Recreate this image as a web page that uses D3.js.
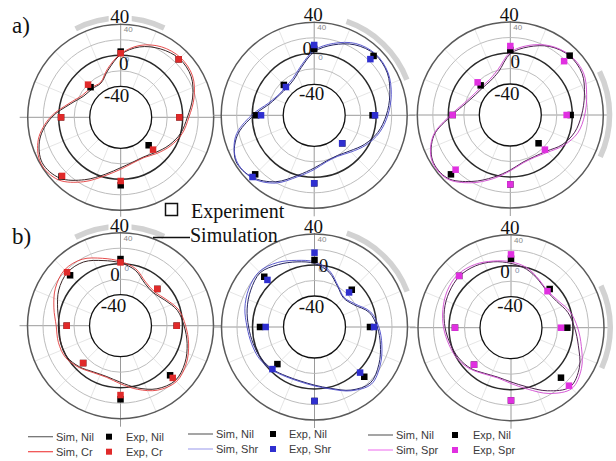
<!DOCTYPE html>
<html><head><meta charset="utf-8">
<script src="https://cdn.jsdelivr.net/npm/d3@7"></script>
<style>body{margin:0;background:#fff}</style>
</head><body>
<svg id="chart" width="616" height="461"></svg>
<script>
// Angles (degrees, clockwise from 12 o'clock)
const simAngles = d3.range(0, 360, 15);
const expAngles = [0, 45, 90, 135, 180, 225, 270, 315];
const ringTicks = [-40, -20, 0, 20, 40];

// Row a) simulated curves
const simNil_a1 = [1, 14, 22, 27, 25, 16, 6, 0, -8, -16, -21, -20, -15, -4, 13, 31, 37, 28, 9, -13, -25, -28, -29, -17];
const simCr_a1  = [2, 16, 25, 29, 27, 18, 8, 2, -6, -14, -20, -19, -13, -2, 16, 34, 39, 30, 11, -11, -23, -26, -28, -15];
const simNil_a2 = [2, 14, 25, 31, 29, 21, 13, 5, -5, -15, -20, -19, -12, 0, 19, 33, 37, 23, -2, -21, -28, -30, -27, -16];
const simShr_a2 = [4, 16, 27, 32, 30, 23, 15, 7, -3, -13, -19, -18, -10, 2, 21, 34, 36, 25, 1, -19, -27, -28, -25, -14];
const simNil_a3 = [-1, 11, 22, 28, 27, 19, 12, 6, -3, -14, -18, -17, -9, 3, 19, 35, 36, 22, -5, -21, -28, -30, -29, -22];
const simSpr_a3 = [1, 13, 23, 29, 29, 22, 16, 10, -1, -12, -17, -16, -8, 5, 21, 36, 37, 23, -3, -19, -26, -28, -27, -19];

// Row b) simulated curves
const simNil_b1 = [1, -6, -17, -20, -14, -4, 2, 9, 16, 20, 14, 3, -7, -12, -11, -5, 0, 0, -1, 4, 12, 17, 15, 7];
const simCr_b1  = [3, -4, -15, -18, -12, -2, 4, 11, 18, 22, 16, 5, -5, -11, -10, -4, 2, 3, 3, 9, 17, 22, 19, 10];
const simNil_b2 = [2, -7, -20, -27, -22, -7, 1, 8, 16, 22, 14, 2, -5, -8, -7, -3, 0, 2, 5, 10, 15, 19, 13, 7];
const simShr_b2 = [4, -5, -19, -26, -20, -5, 3, 10, 18, 24, 15, 3, -4, -7, -6, -2, 2, 4, 7, 13, 18, 21, 16, 9];
const simNil_b3 = [3, -2, -9, -14, -12, -4, 2, 10, 22, 28, 14, -1, -10, -14, -12, -6, -2, 1, 5, 9, 12, 14, 12, 8];
const simSpr_b3 = [5, 0, -8, -13, -10, -1, 6, 14, 25, 31, 18, 2, -8, -13, -11, -5, 0, 3, 7, 11, 15, 17, 14, 9];

// Measured values at the eight directions
const expNil_a1 = [4.8, 25.8, -4.3, -29, 7.7, 28, -3, -25];
const expCr_a1  = [2.6, 25.8, -4.3, -21, 2.2, 27, -3, -20.4];
const expNil_a2 = [5.6, 28.3, -4.7, -28.9, 7.7, 27.7, -5, -24.6];
const expShr_a2 = [10.7, 22.5, -1.5, -28.9, 7.7, 32.6, -11.4, -28.4];
const expNil_a3 = [3.9, 28.3, -2.1, -28.4, 9.5, 28.3, -5.6, -25.9];
const expSpr_a3 = [9, 18.2, -7.3, -16.8, 9.5, 19.8, -5.6, -20.4];
const expNil_b1 = [6, -12.9, -7.5, 10.5, 15, -11.8, -10.6, 12];
const expCr_b1  = [1.7, -12.9, -7.5, 15.3, 9.5, -11.8, -10.6, 17.5];
const expNil_b2 = [6.5, -12, -8.4, 10.8, 15.5, -12.3, -9.7, 11.7];
const expShr_b2 = [15.9, -16.9, -3.2, 3.2, 15.5, -3.2, -17, 5.9];
const expNil_b3 = [9, -9.4, -7.3, 11.2, 13.8, -12.5, -7.7, 14.6];
const expSpr_b3 = [14.6, -13.4, -15.5, 25.8, 13.8, -12.5, -7.7, 14.6];

// Legend labels
const variantNames = ["Cr", "Shr", "Spr"];

const variantColor = { Cr: "#e02a2a", Shr: "#2f2fd0", Spr: "#e030e0" };
const variantLine = { Cr: "#e23a3a", Shr: "#4a4ac8", Spr: "#d048d0" };
const variantLegendLine = { Cr: "#f04848", Shr: "#a8a8ee", Spr: "#f080f0" };
const nilLine = { Cr: "#3a2626", Shr: "#242462", Spr: "#4e2250" };

const panels = [
  { cx: 120.7, cy: 117.3, arc: [-27, 26], zero: [3, -47.5], neg: [-4, -15], v: "Cr",  simNil: simNil_a1, simAlt: simCr_a1,  expNil: expNil_a1, expAlt: expCr_a1 },
  { cx: 314.2, cy: 115.3, arc: [19, 69],  zero: [-7, -60.5], neg: [-2.5, -15.5], v: "Shr", simNil: simNil_a2, simAlt: simShr_a2, expNil: expNil_a2, expAlt: expShr_a2 },
  { cx: 510.3, cy: 115.0, arc: [64, 115], zero: [5, -47.5], neg: [-3.5, -15.5], v: "Spr", simNil: simNil_a3, simAlt: simSpr_a3, expNil: expNil_a3, expAlt: expSpr_a3 },
  { cx: 120.5, cy: 325.7, arc: [-27, 26], zero: [-5.5, -44.5], neg: [-7, -13.5], v: "Cr",  simNil: simNil_b1, simAlt: simCr_b1,  expNil: expNil_b1, expAlt: expCr_b1 },
  { cx: 314.5, cy: 327.0, arc: [19, 69],  zero: [9, -55.5], neg: [-3, -14.5], v: "Shr", simNil: simNil_b2, simAlt: simShr_b2, expNil: expNil_b2, expAlt: expShr_b2 },
  { cx: 511.0, cy: 327.7, arc: [65, 114], zero: [-6, -49.5], neg: [-1, -15.5], v: "Spr", simNil: simNil_b3, simAlt: simSpr_b3, expNil: expNil_b3, expAlt: expSpr_b3 }
];

const svg = d3.select("#chart");
svg.append("rect").attr("width", 616).attr("height", 461).attr("fill", "#fff");

const r = d3.scaleLinear().domain([-40, 40]).range([31, 93]);
const rad = d => d * Math.PI / 180;
const serif = "'Liberation Serif', 'Times New Roman', serif";
const sans = "'Liberation Sans', Arial, sans-serif";

const radial = d3.lineRadial()
  .angle(d => rad(d[0]))
  .radius(d => r(d[1]))
  .curve(d3.curveCatmullRomClosed.alpha(0.5));

panels.forEach(p => {
  const g = svg.append("g").attr("transform", `translate(${p.cx},${p.cy})`);

  // spokes
  d3.range(0, 360, 22.5).forEach(a => {
    const major = a % 90 === 0;
    const r1 = major ? 101 : r(40);
    g.append("line")
      .attr("x1", r(-40) * Math.sin(rad(a))).attr("y1", -r(-40) * Math.cos(rad(a)))
      .attr("x2", r1 * Math.sin(rad(a))).attr("y2", -r1 * Math.cos(rad(a)))
      .attr("stroke", major ? "#9a9a9a" : "#dedede")
      .attr("stroke-width", major ? 1 : 0.8);
  });

  // rings
  ringTicks.forEach(t => {
    const style = t === -40 ? ["#111", 1.3] : t === 0 ? ["#2a2a2a", 1.5] : t === 40 ? ["#5a5a5a", 1.5] : ["#bdbdbd", 1];
    g.append("circle").attr("r", r(t))
      .attr("fill", t === -40 ? "#fff" : "none")
      .attr("stroke", style[0]).attr("stroke-width", style[1]);
  });

  // highlighted sector on the rim
  g.append("path")
    .attr("d", d3.arc().innerRadius(96.5).outerRadius(102).startAngle(rad(p.arc[0])).endAngle(rad(p.arc[1]))())
    .attr("fill", "#d2d2d2");

  // small tick labels
  g.append("text").attr("x", 3).attr("y", -r(40) + 8)
    .attr("font-family", sans).attr("font-size", 8).attr("fill", "#888").text("40");
  g.append("text").attr("x", 4).attr("y", -r(0) + 7)
    .attr("font-family", sans).attr("font-size", 8).attr("fill", "#7d8aa6").text("0");

  // big tick labels
  g.append("rect").attr("x", -12).attr("y", -109).attr("width", 23).attr("height", 15).attr("fill", "#fff");
  g.append("text").attr("x", -1).attr("y", -94).attr("text-anchor", "middle")
    .attr("font-family", serif).attr("font-size", 19).attr("fill", "#111").text("40");
  g.append("text").attr("x", p.zero[0]).attr("y", p.zero[1]).attr("text-anchor", "middle")
    .attr("font-family", serif).attr("font-size", 19).attr("fill", "#111").text("0");
  g.append("text").attr("x", p.neg[0]).attr("y", p.neg[1]).attr("text-anchor", "middle")
    .attr("font-family", serif).attr("font-size", 19).attr("fill", "#111").text("-40");

  // simulated curves
  g.append("path").datum(simAngles.map((a, i) => [a, p.simNil[i]]))
    .attr("d", radial).attr("fill", "none").attr("stroke", nilLine[p.v]).attr("stroke-width", 1);
  g.append("path").datum(simAngles.map((a, i) => [a, p.simAlt[i]]))
    .attr("d", radial).attr("fill", "none").attr("stroke", variantLine[p.v]).attr("stroke-width", 0.9);

  // measured points
  const sq = 6.5;
  const drawPts = (vals, col) => {
    g.selectAll(null).data(expAngles.map((a, i) => [a, vals[i]])).enter().append("rect")
      .attr("x", d => r(d[1]) * Math.sin(rad(d[0])) - sq / 2)
      .attr("y", d => -r(d[1]) * Math.cos(rad(d[0])) - sq / 2)
      .attr("width", sq).attr("height", sq).attr("fill", col);
  };
  drawPts(p.expNil, "#000");
  drawPts(p.expAlt, variantColor[p.v]);
});

// panel letters
svg.append("text").attr("x", 12).attr("y", 33).attr("font-family", serif).attr("font-size", 23).attr("fill", "#111").text("a)");
svg.append("text").attr("x", 12).attr("y", 244).attr("font-family", serif).attr("font-size", 23).attr("fill", "#111").text("b)");

// marker key
svg.append("rect").attr("x", 165.5).attr("y", 203.5).attr("width", 12).attr("height", 12)
  .attr("fill", "#fff").attr("stroke", "#111").attr("stroke-width", 1.5);
svg.append("text").attr("x", 191).attr("y", 218).attr("font-family", serif).attr("font-size", 20).attr("fill", "#111").text("Experiment");
svg.append("line").attr("x1", 153).attr("x2", 190).attr("y1", 237.5).attr("y2", 237.5).attr("stroke", "#111").attr("stroke-width", 1.3);
svg.append("text").attr("x", 190).attr("y", 241.5).attr("font-family", serif).attr("font-size", 20).attr("fill", "#111").text("Simulation");

// per-column legends
const legendPos = [
  { x: 28, y: 436.7, sq: 109, tx: 126 },
  { x: 188, y: 434, sq: 273, tx: 289 },
  { x: 368, y: 435, sq: 455, tx: 473 }
];
variantNames.forEach((v, i) => {
  const L = legendPos[i];
  const rows = [
    { line: "#6a6a6a", sim: "Sim, Nil", pt: "#000", exp: "Exp, Nil" },
    { line: variantLegendLine[v], sim: "Sim, " + v, pt: variantColor[v], exp: "Exp, " + v }
  ];
  rows.forEach((row, j) => {
    const y = L.y + j * 15;
    svg.append("line").attr("x1", L.x).attr("x2", L.x + 25).attr("y1", y).attr("y2", y)
      .attr("stroke", row.line).attr("stroke-width", 1.2);
    svg.append("text").attr("x", L.x + 28).attr("y", y + 3.8).attr("font-family", sans).attr("font-size", 11)
      .attr("fill", "#3a3a3a").text(row.sim);
    svg.append("rect").attr("x", L.sq - 3).attr("y", y - 3).attr("width", 6).attr("height", 6).attr("fill", row.pt);
    svg.append("text").attr("x", L.tx).attr("y", y + 3.8).attr("font-family", sans).attr("font-size", 11)
      .attr("fill", "#3a3a3a").text(row.exp);
  });
});
</script>
</body></html>
